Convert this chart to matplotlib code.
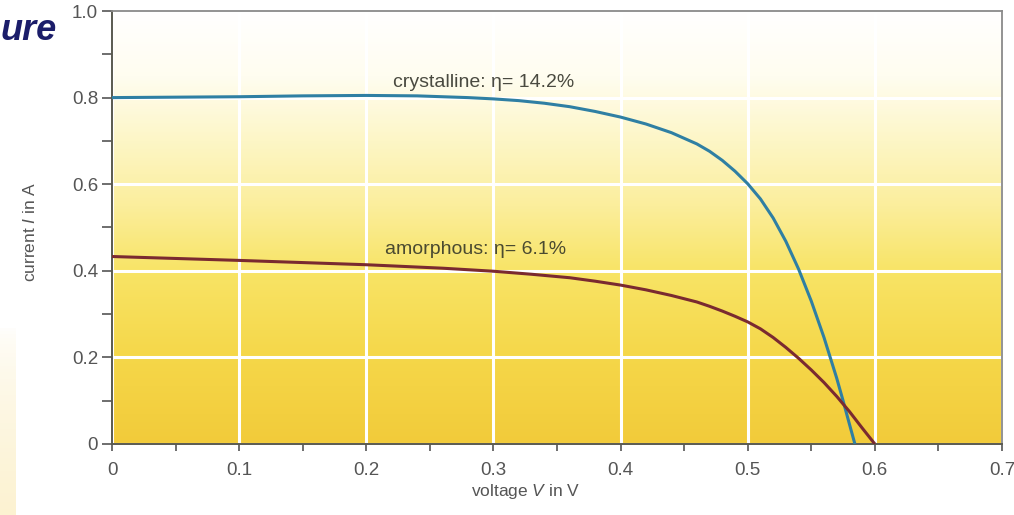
import numpy as np
import matplotlib
matplotlib.use("Agg")
import matplotlib.pyplot as plt
from matplotlib.colors import LinearSegmentedColormap

# I-V characteristics of two solar cell types
crystalline_v = [0.00, 0.05, 0.10, 0.15, 0.20, 0.24, 0.28, 0.30, 0.32, 0.34, 0.36, 0.38,
                 0.40, 0.42, 0.44, 0.46, 0.47, 0.48, 0.49, 0.50, 0.51, 0.52, 0.53,
                 0.54, 0.55, 0.56, 0.57, 0.575, 0.58, 0.5843]
crystalline_i = [0.800, 0.801, 0.802, 0.804, 0.805, 0.804, 0.800, 0.797, 0.793, 0.787, 0.779, 0.768,
                 0.755, 0.739, 0.719, 0.693, 0.676, 0.655, 0.630, 0.601, 0.566, 0.522, 0.468,
                 0.404, 0.330, 0.246, 0.152, 0.100, 0.046, 0.000]

amorphous_v = [0.00, 0.10, 0.20, 0.26, 0.30, 0.33, 0.36, 0.38, 0.40, 0.42, 0.44, 0.46,
               0.47, 0.48, 0.49, 0.50, 0.51, 0.52, 0.53, 0.54, 0.55, 0.56, 0.57,
               0.58, 0.59, 0.60]
amorphous_i = [0.433, 0.424, 0.414, 0.406, 0.399, 0.392, 0.384, 0.376, 0.367, 0.356, 0.343, 0.328,
               0.318, 0.307, 0.295, 0.282, 0.266, 0.246, 0.223, 0.198, 0.171, 0.142, 0.110,
               0.075, 0.037, 0.000]

x_ticks = [0, 0.1, 0.2, 0.3, 0.4, 0.5, 0.6, 0.7]
x_tick_labels = ["0", "0.1", "0.2", "0.3", "0.4", "0.5", "0.6", "0.7"]
y_ticks = [0, 0.2, 0.4, 0.6, 0.8, 1.0]
y_tick_labels = ["0", "0.2", "0.4", "0.6", "0.8", "1.0"]

labels = ["crystalline: η= 14.2%", "amorphous: η= 6.1%"]

FONT = ["Liberation Sans", "DejaVu Sans"]
plt.rcParams["font.family"] = FONT
plt.rcParams["mathtext.fontset"] = "custom"
plt.rcParams["mathtext.it"] = "Liberation Sans:italic"
plt.rcParams["mathtext.rm"] = "Liberation Sans"

fig = plt.figure(figsize=(10.14, 5.15), dpi=100)
W, H = 1014, 515

# faint page tint on the left edge
side = fig.add_axes([0, 0, 16 / W, 190 / H])
side.axis("off")
tint = np.zeros((60, 2, 4))
tint[..., 0] = 0.99
tint[..., 1] = 0.95
tint[..., 2] = 0.82
tint[..., 3] = np.linspace(0.0, 1.0, 60)[:, None] ** 0.6
side.imshow(tint, extent=[0, 1, 1, 0], aspect="auto")

ax = fig.add_axes([112 / W, (H - 444) / H, (1002 - 112) / W, (444 - 11) / H])

# white-to-yellow vertical background
bg = LinearSegmentedColormap.from_list(
    "bg",
    [(0.0, "#f2cb3a"), (0.2, "#f5d749"), (0.4, "#f8e466"),
     (0.55, "#fbee9c"), (0.7, "#fdf6c6"), (0.85, "#fffdf0"), (1.0, "#ffffff")],
)
grad = np.linspace(0, 1, 256)[:, None]
ax.imshow(grad, extent=[0, 0.7, 0, 1], origin="lower", aspect="auto",
          cmap=bg, zorder=0)

ax.set_xlim(0, 0.7)
ax.set_ylim(0, 1.0)
ax.set_axisbelow(True)
ax.grid(True, which="major", color="white", linewidth=2.2)

ax.plot(crystalline_v, crystalline_i, color="#2f7fa3", linewidth=2.2,
        solid_capstyle="butt", solid_joinstyle="round", zorder=3)
ax.plot(amorphous_v, amorphous_i, color="#7a2a30", linewidth=2.2,
        solid_capstyle="butt", solid_joinstyle="round", zorder=3)

ax.text(0.292, 0.836, labels[0], ha="center", va="center", fontsize=14,
        color="#4a4a40", zorder=4)
ax.text(0.286, 0.449, labels[1], ha="center", va="center", fontsize=14,
        color="#4a4a30", zorder=4)

ax.set_xticks(x_ticks)
ax.set_xticklabels(x_tick_labels)
ax.set_xticks(np.arange(0.05, 0.7, 0.1), minor=True)
ax.set_yticks(y_ticks)
ax.set_yticklabels(y_tick_labels)
ax.set_yticks(np.arange(0.1, 1.0, 0.2), minor=True)

ax.tick_params(axis="both", which="both", direction="out", colors="#555555",
               labelcolor="#555555", labelsize=13.5)
ax.tick_params(axis="y", which="both", length=7, width=1.2, pad=3)
ax.tick_params(axis="x", which="both", length=5, width=1.2, pad=8)

for s in ("left", "bottom"):
    ax.spines[s].set_color("#5a5a50")
    ax.spines[s].set_linewidth(1.4)
for s in ("top", "right"):
    ax.spines[s].set_color("#8a8a8a")
    ax.spines[s].set_linewidth(1.3)

ax.set_xlabel("voltage $\\mathit{V}$ in V", fontsize=12.5, color="#555555")
ax.set_ylabel("current $\\mathit{I}$ in A", fontsize=12.5, color="#555555")
ax.xaxis.set_label_coords(0.465, -0.088)
ax.yaxis.set_label_coords(-0.083, 0.49)

# heading fragment at the top-left corner
fig.text(1 / W, 1 - 40 / H, "ure", ha="left", va="baseline", fontsize=26,
         fontweight="bold", fontstyle="italic", color="#1b1d6a", family=FONT)

fig.savefig("out.png", dpi=100)
